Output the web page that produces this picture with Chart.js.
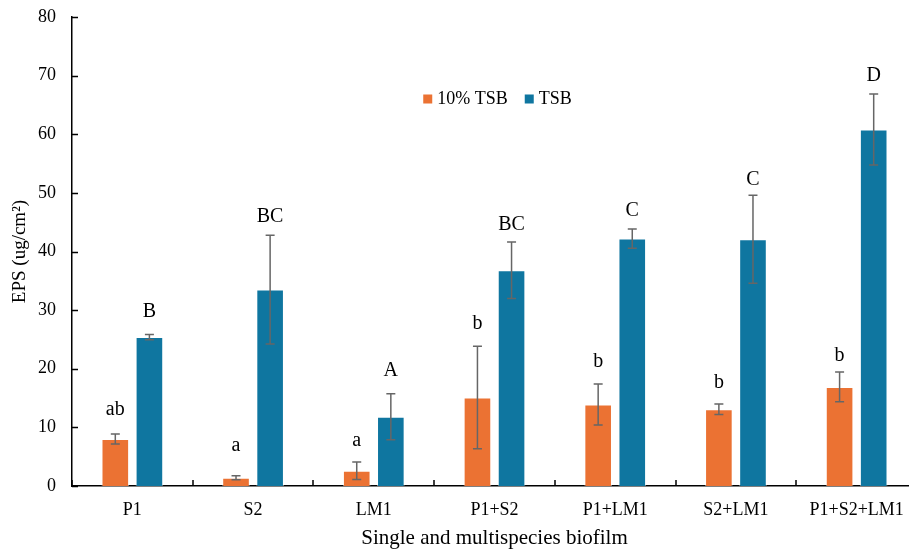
<!DOCTYPE html>
<html>
<head>
<meta charset="utf-8">
<script src="https://cdn.jsdelivr.net/npm/chart.js@4"></script>
<style>
html, body { margin: 0; padding: 0; background: #fff; overflow: hidden; }
#wrap { width: 917px; height: 551px; }
</style>
</head>
<body>
<div id="wrap"><canvas id="epsChart" width="917" height="551"></canvas></div>
<script>
const categories = ['P1', 'S2', 'LM1', 'P1+S2', 'P1+LM1', 'S2+LM1', 'P1+S2+LM1'];
const tsb10Values = [8.0, 1.4, 2.6, 15.1, 13.9, 13.1, 16.9];
const tsb10Errors = [0.85, 0.35, 1.5, 8.75, 3.5, 0.9, 2.55];
const tsbValues = [25.4, 33.5, 11.8, 36.8, 42.2, 42.1, 60.8];
const tsbErrors = [0.46, 9.27, 3.92, 4.8, 1.65, 7.5, 6.05];
const tsb10Letters = ['ab', 'a', 'a', 'b', 'b', 'b', 'b'];
const tsbLetters = ['B', 'BC', 'A', 'BC', 'C', 'C', 'D'];
// where the letters sit, in EPS units
const tsb10LetterY = [13.0, 6.9, 7.8, 27.6, 21.2, 17.6, 22.3];
const tsbLetterY = [29.7, 46.0, 19.6, 44.6, 47.0, 52.3, 69.9];
const yTicks = [0, 10, 20, 30, 40, 50, 60, 70, 80];

const FONT = "'Liberation Serif', 'Times New Roman', serif";
const ORANGE = '#EB7233';
const BLUE = '#0F76A0';

// Error bars + significance letters
const errorBarPlugin = {
    id: 'errorBars',
    afterDatasetsDraw(chart) {
        const ctx = chart.ctx;
        const yScale = chart.scales.y;
        const errs = [tsb10Errors, tsbErrors];
        const letters = [tsb10Letters, tsbLetters];
        const letterY = [tsb10LetterY, tsbLetterY];
        ctx.save();
        chart.data.datasets.forEach((ds, d) => {
            const meta = chart.getDatasetMeta(d);
            meta.data.forEach((bar, i) => {
                const v = ds.data[i];
                const top = yScale.getPixelForValue(v + errs[d][i]);
                const bot = yScale.getPixelForValue(v - errs[d][i]);
                const x = bar.x;
                ctx.strokeStyle = '#666666';
                ctx.lineWidth = 1.5;
                ctx.beginPath();
                ctx.moveTo(x, top); ctx.lineTo(x, bot);
                ctx.moveTo(x - 4.5, top); ctx.lineTo(x + 4.5, top);
                ctx.moveTo(x - 4.5, bot); ctx.lineTo(x + 4.5, bot);
                ctx.stroke();

                ctx.fillStyle = '#000';
                ctx.font = '20px ' + FONT;
                ctx.textAlign = 'center';
                ctx.textBaseline = 'middle';
                ctx.fillText(letters[d][i], x, yScale.getPixelForValue(letterY[d][i]));
            });
        });
        ctx.restore();
    }
};

// Tick marks pointing into the plot, as in the original
const innerTicksPlugin = {
    id: 'innerTicks',
    afterDraw(chart) {
        const ctx = chart.ctx;
        const area = chart.chartArea;
        const xs = chart.scales.x, ys = chart.scales.y;
        ctx.save();
        ctx.strokeStyle = '#000';
        ctx.lineWidth = 1.5;
        ctx.beginPath();
        yTicks.forEach(v => {
            const py = Math.round(ys.getPixelForValue(v)) + 0.5;
            ctx.moveTo(area.left, py); ctx.lineTo(area.left + 6, py);
        });
        const half = (xs.getPixelForValue(1) - xs.getPixelForValue(0)) / 2;
        for (let i = 0; i <= categories.length; i++) {
            const px = Math.round(xs.getPixelForValue(i) - half);
            ctx.moveTo(px, area.bottom); ctx.lineTo(px, area.bottom - 6);
        }
        ctx.stroke();
        ctx.restore();
    }
};

// Legend drawn inside the plot area
const innerLegendPlugin = {
    id: 'innerLegend',
    afterDraw(chart) {
        const ctx = chart.ctx;
        const area = chart.chartArea;
        ctx.save();
        ctx.font = '18px ' + FONT;
        ctx.textBaseline = 'middle';
        ctx.textAlign = 'left';
        const box = 9, gap = 5, itemGap = 17;
        const items = chart.data.datasets.map(ds => ({ label: ds.label, color: ds.backgroundColor }));
        let total = 0;
        items.forEach((it, k) => {
            it.w = box + gap + ctx.measureText(it.label).width;
            total += it.w + (k > 0 ? itemGap : 0);
        });
        let x = (area.left + area.right) / 2 - total / 2 + 3;
        const y = area.top + 82;
        items.forEach(it => {
            ctx.fillStyle = it.color;
            ctx.fillRect(x, y - box / 2, box, box);
            ctx.fillStyle = '#000';
            ctx.fillText(it.label, x + box + gap, y);
            x += it.w + itemGap;
        });
        ctx.restore();
    }
};

const chart = new Chart(document.getElementById('epsChart'), {
    type: 'bar',
    data: {
        labels: categories,
        datasets: [
            { label: '10% TSB', data: tsb10Values, backgroundColor: ORANGE, borderColor: 'rgba(255,255,255,0.5)', borderWidth: 1 },
            { label: 'TSB', data: tsbValues, backgroundColor: BLUE, borderColor: 'rgba(255,255,255,0.5)', borderWidth: 1 }
        ]
    },
    options: {
        responsive: false,
        animation: false,
        categoryPercentage: 0.565,
        barPercentage: 0.81,
        layout: { padding: { left: 0, right: 0, top: 17, bottom: 0 } },
        plugins: {
            legend: { display: false },
            tooltip: { enabled: false }
        },
        scales: {
            x: {
                grid: { display: false, drawTicks: true, tickLength: 9 },
                border: { display: true, color: '#000', width: 1.5 },
                ticks: { color: '#000', padding: 4, font: { family: FONT, size: 18 }, maxRotation: 0, autoSkip: false },
                title: { display: true, text: 'Single and multispecies biofilm', color: '#000', font: { family: FONT, size: 21 }, padding: { top: 0, bottom: 0 } },
                afterFit(scale) { scale.height = 65; }
            },
            y: {
                min: 0,
                max: 80,
                afterBuildTicks(scale) { scale.ticks = yTicks.map(v => ({ value: v })); },
                grid: { display: false, drawTicks: true, tickLength: 12 },
                border: { display: true, color: '#000', width: 1.5 },
                ticks: { color: '#000', padding: 4, font: { family: FONT, size: 18 } },
                title: { display: true, text: 'EPS (ug/cm²)', color: '#000', font: { family: FONT, size: 19 }, padding: { top: 9, bottom: 9 } },
                afterFit(scale) { scale.width = 72; }
            }
        }
    },
    plugins: [errorBarPlugin, innerTicksPlugin, innerLegendPlugin]
});
</script>
</body>
</html>
